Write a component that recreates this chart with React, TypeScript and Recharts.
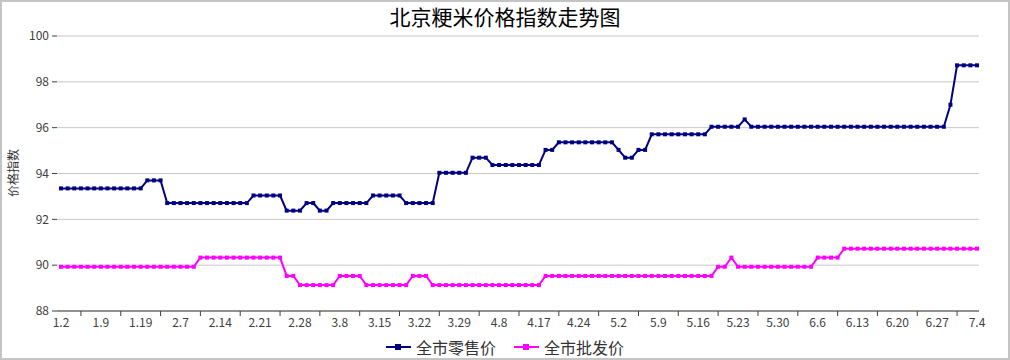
import React from 'react';
import {
  LineChart,
  Line,
  XAxis,
  YAxis,
  CartesianGrid,
  Legend,
} from 'recharts';

// one label every 6 points (daily quotes, 6 per week)
const POINTS_PER_LABEL = 6;

const tickLabels = [
  '1.2', '1.9', '1.19', '2.7', '2.14', '2.21', '2.28', '3.8', '3.15', '3.22', '3.29', '4.8',
  '4.17', '4.24', '5.2', '5.9', '5.16', '5.23', '5.30', '6.6', '6.13', '6.20', '6.27', '7.4',
];

const yTicks = [88, 90, 92, 94, 96, 98, 100];

const seriesNames = ['全市零售价', '全市批发价'];

// 全市零售价
const retail = [
  93.35, 93.35, 93.35, 93.35, 93.35, 93.35,
  93.35, 93.35, 93.35, 93.35, 93.35, 93.35,
  93.35, 93.7, 93.7, 93.7, 92.71, 92.71,
  92.71, 92.71, 92.71, 92.71, 92.71, 92.71,
  92.71, 92.71, 92.71, 92.71, 92.71, 93.04,
  93.04, 93.04, 93.04, 93.04, 92.38, 92.38,
  92.38, 92.71, 92.71, 92.38, 92.38, 92.71,
  92.71, 92.71, 92.71, 92.71, 92.71, 93.04,
  93.04, 93.04, 93.04, 93.04, 92.71, 92.71,
  92.71, 92.71, 92.71, 94.03, 94.03, 94.03,
  94.03, 94.03, 94.69, 94.69, 94.69, 94.37,
  94.37, 94.37, 94.37, 94.37, 94.37, 94.37,
  94.37, 95.03, 95.03, 95.36, 95.36, 95.36,
  95.36, 95.36, 95.36, 95.36, 95.36, 95.36,
  95.03, 94.69, 94.69, 95.03, 95.03, 95.71,
  95.71, 95.71, 95.71, 95.71, 95.71, 95.71,
  95.71, 95.71, 96.04, 96.04, 96.04, 96.04,
  96.04, 96.36, 96.04, 96.04, 96.04, 96.04,
  96.04, 96.04, 96.04, 96.04, 96.04, 96.04,
  96.04, 96.04, 96.04, 96.04, 96.04, 96.04,
  96.04, 96.04, 96.04, 96.04, 96.04, 96.04,
  96.04, 96.04, 96.04, 96.04, 96.04, 96.04,
  96.04, 96.04, 97.0, 98.72, 98.72, 98.72,
  98.72,
];

// 全市批发价
const wholesale = [
  89.93, 89.93, 89.93, 89.93, 89.93, 89.93,
  89.93, 89.93, 89.93, 89.93, 89.93, 89.93,
  89.93, 89.93, 89.93, 89.93, 89.93, 89.93,
  89.93, 89.93, 89.93, 90.33, 90.33, 90.33,
  90.33, 90.33, 90.33, 90.33, 90.33, 90.33,
  90.33, 90.33, 90.33, 90.33, 89.53, 89.53,
  89.13, 89.13, 89.13, 89.13, 89.13, 89.13,
  89.53, 89.53, 89.53, 89.53, 89.13, 89.13,
  89.13, 89.13, 89.13, 89.13, 89.13, 89.53,
  89.53, 89.53, 89.13, 89.13, 89.13, 89.13,
  89.13, 89.13, 89.13, 89.13, 89.13, 89.13,
  89.13, 89.13, 89.13, 89.13, 89.13, 89.13,
  89.13, 89.53, 89.53, 89.53, 89.53, 89.53,
  89.53, 89.53, 89.53, 89.53, 89.53, 89.53,
  89.53, 89.53, 89.53, 89.53, 89.53, 89.53,
  89.53, 89.53, 89.53, 89.53, 89.53, 89.53,
  89.53, 89.53, 89.53, 89.93, 89.93, 90.33,
  89.93, 89.93, 89.93, 89.93, 89.93, 89.93,
  89.93, 89.93, 89.93, 89.93, 89.93, 89.93,
  90.33, 90.33, 90.33, 90.33, 90.72, 90.72,
  90.72, 90.72, 90.72, 90.72, 90.72, 90.72,
  90.72, 90.72, 90.72, 90.72, 90.72, 90.72,
  90.72, 90.72, 90.72, 90.72, 90.72, 90.72,
  90.72,
];

const data = retail.map((r, i) => ({ i, retail: r, wholesale: wholesale[i] }));

// labels sit on every 6th point, tick marks halfway between them
const xTicks = tickLabels.flatMap((_, k) =>
  k < tickLabels.length - 1
    ? [k * POINTS_PER_LABEL, k * POINTS_PER_LABEL + POINTS_PER_LABEL / 2]
    : [k * POINTS_PER_LABEL]
);

const FONT = '"Noto Sans CJK SC", "Noto Sans", sans-serif';
const AXIS = '#404040';

const XTick = (props: any) => {
  const { x, y, payload } = props;
  const v = payload.value;
  if (v % POINTS_PER_LABEL === 0) {
    return (
      <text x={x} y={y} dy="0.71em" textAnchor="middle" fontSize={12} fill={AXIS} fontFamily={FONT}>
        {tickLabels[v / POINTS_PER_LABEL]}
      </text>
    );
  }
  return <line x1={x} x2={x} y1={y - 7} y2={y - 2} stroke={AXIS} strokeWidth={1} />;
};

const squareDot = (color: string) => (p: any) => (
  <rect key={`${color}-${p.index}`} x={p.cx - 2} y={p.cy - 2} width={4} height={4} fill={color} />
);

const LegendContent = (props: any) => {
  const { payload = [] } = props;
  // keep series order, the legend sorts by name otherwise
  const items = [...payload].sort(
    (a: any, b: any) => seriesNames.indexOf(a.value) - seriesNames.indexOf(b.value)
  );
  return (
    <div style={{ display: 'flex', justifyContent: 'center', alignItems: 'center', fontFamily: FONT, fontSize: 16, color: '#333' }}>
      {items.map((item: any, k: number) => (
        <div key={item.value} style={{ display: 'flex', alignItems: 'center', marginLeft: k === 0 ? 0 : 18 }}>
          <svg width={25} height={10}>
            <line x1={0} x2={25} y1={5} y2={5} stroke={item.color} strokeWidth={2} />
            <rect x={9} y={2} width={6} height={6} fill={item.color} />
          </svg>
          <span style={{ marginLeft: 5, lineHeight: '20px' }}>{item.value}</span>
        </div>
      ))}
    </div>
  );
};

export default function App() {
  return (
    <div
      style={{
        position: 'absolute',
        left: 0,
        top: 0,
        width: 1010,
        height: 360,
        boxSizing: 'border-box',
        border: '2px solid #c4c4c4',
        background: '#fff',
        fontFamily: FONT,
      }}
    >
      <div
        style={{
          position: 'absolute',
          left: 0,
          top: 0,
          width: 1006,
          textAlign: 'center',
          fontSize: 21,
          lineHeight: '28px',
          color: '#000',
        }}
      >
        北京粳米价格指数走势图
      </div>
      <div
        style={{
          position: 'absolute',
          left: 10.5,
          top: 171,
          transform: 'translate(-50%, -50%) rotate(-90deg)',
          whiteSpace: 'nowrap',
          fontSize: 12,
          lineHeight: 1,
          color: '#333',
        }}
      >
        价格指数
      </div>
      <LineChart width={1006} height={356} data={data} margin={{ top: 34, right: 29, bottom: 17, left: 0 }}>
        <CartesianGrid vertical={false} stroke="#c8c8c8" />
        <XAxis
          dataKey="i"
          type="number"
          domain={[0, retail.length - 1]}
          ticks={xTicks}
          interval={0}
          height={30}
          padding={{ left: 4, right: 2 }}
          axisLine={{ stroke: AXIS }}
          tickLine={false}
          tickSize={5}
          tickMargin={2}
          tick={<XTick />}
        />
        <YAxis
          width={55}
          domain={[88, 100]}
          ticks={yTicks}
          interval={0}
          axisLine={false}
          tickLine={{ stroke: AXIS }}
          tickSize={5}
          tickMargin={3}
          tick={{ fill: AXIS, fontSize: 12, fontFamily: FONT }}
        />
        <Legend
          verticalAlign="middle"
          align="center"
          layout="horizontal"
          wrapperStyle={{ top: 335, left: 0, width: 1006 }}
          content={<LegendContent />}
        />
        <Line
          type="linear"
          dataKey="retail"
          name={seriesNames[0]}
          stroke="#000080"
          strokeWidth={2}
          dot={squareDot('#000080')}
          activeDot={false}
          isAnimationActive={false}
        />
        <Line
          type="linear"
          dataKey="wholesale"
          name={seriesNames[1]}
          stroke="#ff00ff"
          strokeWidth={2}
          dot={squareDot('#ff00ff')}
          activeDot={false}
          isAnimationActive={false}
        />
      </LineChart>
    </div>
  );
}
